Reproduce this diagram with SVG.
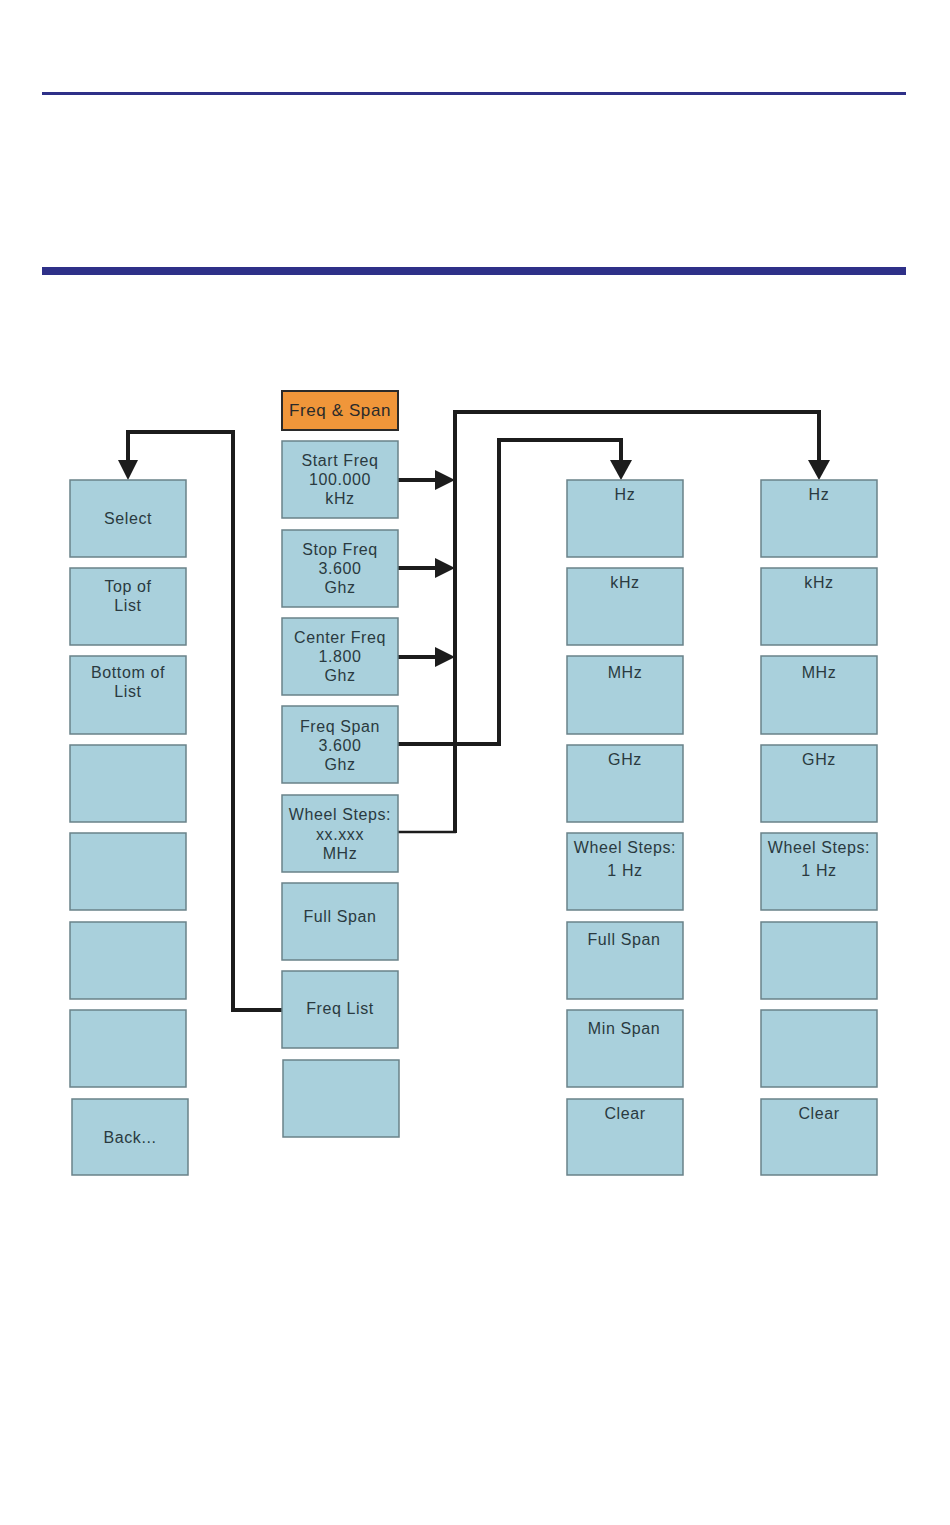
<svg xmlns="http://www.w3.org/2000/svg" width="950" height="1525" viewBox="0 0 950 1525">
<style>
.box{fill:#a9d0dc;stroke:#6a8289;stroke-width:1.5}
.hdr{fill:#f0963a;stroke:#2a2a2a;stroke-width:2}
.t{font-family:"Liberation Sans",Arial,sans-serif;font-size:16px;letter-spacing:0.6px;fill:#2a3a40;text-anchor:middle}
.th{font-family:"Liberation Sans",Arial,sans-serif;font-size:17px;letter-spacing:0.6px;fill:#2a2a2a;text-anchor:middle}
.ln{fill:none;stroke:#1c1c1c;stroke-width:4;stroke-linejoin:miter}
.ah{fill:#1c1c1c}
</style>
<rect x="0" y="0" width="950" height="1525" fill="#ffffff"/>
<rect x="42" y="92" width="864" height="3" fill="#2e3088"/>
<rect x="42" y="267" width="864" height="8" fill="#2e3088"/>

<g id="connectors">
<polyline class="ln" points="282,1010 233,1010 233,432 128,432 128,462"/>
<polygon class="ah" points="118,460 138,460 128,480"/>
<line class="ln" x1="398" y1="480" x2="438" y2="480"/>
<polygon class="ah" points="435,470 435,490 455,480"/>
<line class="ln" x1="398" y1="568" x2="438" y2="568"/>
<polygon class="ah" points="435,558 435,578 455,568"/>
<line class="ln" x1="398" y1="657" x2="438" y2="657"/>
<polygon class="ah" points="435,647 435,667 455,657"/>
<polyline class="ln" points="455,833 455,412 819,412 819,462"/>
<line class="ln" x1="398" y1="832" x2="456" y2="832" style="stroke-width:2.5"/>
<polygon class="ah" points="808,460 830,460 819,480"/>
<polyline class="ln" points="398,744 499,744 499,440 621,440 621,462"/>
<polygon class="ah" points="610,460 632,460 621,480"/>
</g>

<g id="col-left">
<g id="n-select"><rect class="box" x="70" y="480" width="116" height="77"/><text class="t" x="128" y="524">Select</text></g>
<g id="n-topoflist"><rect class="box" x="70" y="568" width="116" height="77"/><text class="t" x="128" y="592">Top of</text><text class="t" x="128" y="611">List</text></g>
<g id="n-bottomoflist"><rect class="box" x="70" y="656" width="116" height="78"/><text class="t" x="128" y="678">Bottom of</text><text class="t" x="128" y="697">List</text></g>
<g id="n-left4"><rect class="box" x="70" y="745" width="116" height="77"/></g>
<g id="n-left5"><rect class="box" x="70" y="833" width="116" height="77"/></g>
<g id="n-left6"><rect class="box" x="70" y="922" width="116" height="77"/></g>
<g id="n-left7"><rect class="box" x="70" y="1010" width="116" height="77"/></g>
<g id="n-back"><rect class="box" x="72" y="1099" width="116" height="76"/><text class="t" x="130" y="1143">Back...</text></g>
</g>

<g id="col-mid">
<g id="n-freqspan-hdr"><rect class="hdr" x="282" y="391" width="116" height="39"/><text class="th" x="340" y="416">Freq &amp; Span</text></g>
<g id="n-startfreq"><rect class="box" x="282" y="441" width="116" height="77"/><text class="t" x="340" y="466">Start Freq</text><text class="t" x="340" y="485">100.000</text><text class="t" x="340" y="504">kHz</text></g>
<g id="n-stopfreq"><rect class="box" x="282" y="530" width="116" height="77"/><text class="t" x="340" y="555">Stop Freq</text><text class="t" x="340" y="574">3.600</text><text class="t" x="340" y="593">Ghz</text></g>
<g id="n-centerfreq"><rect class="box" x="282" y="618" width="116" height="77"/><text class="t" x="340" y="643">Center Freq</text><text class="t" x="340" y="662">1.800</text><text class="t" x="340" y="681">Ghz</text></g>
<g id="n-freqspan"><rect class="box" x="282" y="706" width="116" height="77"/><text class="t" x="340" y="732">Freq Span</text><text class="t" x="340" y="751">3.600</text><text class="t" x="340" y="770">Ghz</text></g>
<g id="n-wheelsteps"><rect class="box" x="282" y="795" width="116" height="77"/><text class="t" x="340" y="820">Wheel Steps:</text><text class="t" x="340" y="840">xx.xxx</text><text class="t" x="340" y="859">MHz</text></g>
<g id="n-fullspan"><rect class="box" x="282" y="883" width="116" height="77"/><text class="t" x="340" y="922">Full Span</text></g>
<g id="n-freqlist"><rect class="box" x="282" y="971" width="116" height="77"/><text class="t" x="340" y="1014">Freq List</text></g>
<g id="n-mid-empty"><rect class="box" x="283" y="1060" width="116" height="77"/></g>
</g>

<g id="col-3">
<g id="n-c3-hz"><rect class="box" x="567" y="480" width="116" height="77"/><text class="t" x="625" y="500">Hz</text></g>
<g id="n-c3-khz"><rect class="box" x="567" y="568" width="116" height="77"/><text class="t" x="625" y="588">kHz</text></g>
<g id="n-c3-mhz"><rect class="box" x="567" y="656" width="116" height="78"/><text class="t" x="625" y="678">MHz</text></g>
<g id="n-c3-ghz"><rect class="box" x="567" y="745" width="116" height="77"/><text class="t" x="625" y="765">GHz</text></g>
<g id="n-c3-wheel"><rect class="box" x="567" y="833" width="116" height="77"/><text class="t" x="625" y="853">Wheel Steps:</text><text class="t" x="625" y="876">1 Hz</text></g>
<g id="n-c3-fullspan"><rect class="box" x="567" y="922" width="116" height="77"/><text class="t" x="624" y="945">Full Span</text></g>
<g id="n-c3-minspan"><rect class="box" x="567" y="1010" width="116" height="77"/><text class="t" x="624" y="1034">Min Span</text></g>
<g id="n-c3-clear"><rect class="box" x="567" y="1099" width="116" height="76"/><text class="t" x="625" y="1119">Clear</text></g>
</g>

<g id="col-4">
<g id="n-c4-hz"><rect class="box" x="761" y="480" width="116" height="77"/><text class="t" x="819" y="500">Hz</text></g>
<g id="n-c4-khz"><rect class="box" x="761" y="568" width="116" height="77"/><text class="t" x="819" y="588">kHz</text></g>
<g id="n-c4-mhz"><rect class="box" x="761" y="656" width="116" height="78"/><text class="t" x="819" y="678">MHz</text></g>
<g id="n-c4-ghz"><rect class="box" x="761" y="745" width="116" height="77"/><text class="t" x="819" y="765">GHz</text></g>
<g id="n-c4-wheel"><rect class="box" x="761" y="833" width="116" height="77"/><text class="t" x="819" y="853">Wheel Steps:</text><text class="t" x="819" y="876">1 Hz</text></g>
<g id="n-c4-empty6"><rect class="box" x="761" y="922" width="116" height="77"/></g>
<g id="n-c4-empty7"><rect class="box" x="761" y="1010" width="116" height="77"/></g>
<g id="n-c4-clear"><rect class="box" x="761" y="1099" width="116" height="76"/><text class="t" x="819" y="1119">Clear</text></g>
</g>
</svg>
